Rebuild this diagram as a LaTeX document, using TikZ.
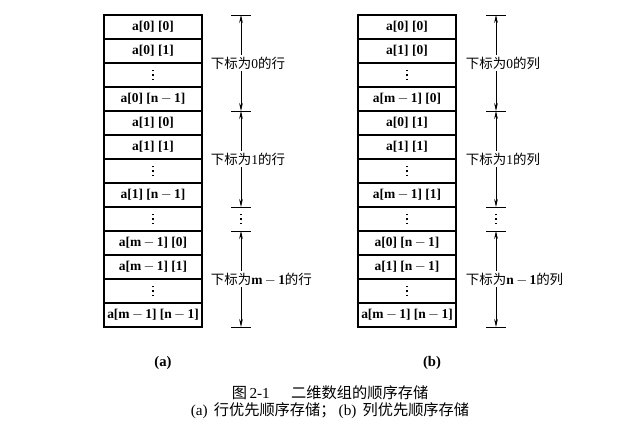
\documentclass[tikz,border=0pt]{standalone}
\usepackage{fontspec}
\setmainfont{Liberation Serif}
\newfontfamily\cjk{Noto Sans CJK SC}
\usetikzlibrary{arrows.meta}

% 竖排三点（用小方块画）
\newcommand{\vdts}[1][1.3pt]{\vbox{\baselineskip=0pt\lineskip=2.5pt
    \hbox{\rule{#1}{#1}}\hbox{\rule{#1}{#1}}\hbox{\rule{#1}{#1}}}}

\begin{document}
\begin{tikzpicture}[x=0.03cm, y=-0.03cm,
    frame/.style={line width=0.9pt},
    cell/.style={inner sep=1pt, font=\fontsize{11.5}{13}\selectfont\bfseries},
    tick/.style={line width=0.6pt},
    dim/.style={-{Stealth[length=2.4mm, width=1.1mm]}, line width=0.6pt},
    lab/.style={anchor=west, inner sep=1.5pt, font=\cjk\fontsize{11.5}{13}\selectfont},
    captext/.style={inner sep=0pt, font=\fontsize{13}{15}\selectfont}]
    % --- 定义坐标和参数 ---
    \def\lx{153}      % (a) 表的中心 x
    \def\rx{407}      % (b) 表的中心 x
    \def\la{241}      % (a) 尺寸线 x
    \def\ra{496}      % (b) 尺寸线 x
    \useasboundingbox (0,0) rectangle (636,429);

    % --- 表格外框和横线 ---
    \draw[frame] (104,15) rectangle (202,327);
    \draw[frame] (358,15) rectangle (456,327);
    \foreach \k in {1,...,12} {
        \draw[frame] (104,15+24*\k) -- (202,15+24*\k);
        \draw[frame] (358,15+24*\k) -- (456,15+24*\k);
    }

    % --- (a) 行优先存储表 ---
    \foreach \txt [count=\i] in {{a[0] [0]}, {a[0] [1]}, {\vdts}, {a[0] [n$\,-\,$1]},
        {a[1] [0]}, {a[1] [1]}, {\vdts}, {a[1] [n$\,-\,$1]}, {\vdts},
        {a[m$\,-\,$1] [0]}, {a[m$\,-\,$1] [1]}, {\vdts}, {a[m$\,-\,$1] [n$\,-\,$1]}}
        \node[cell] (L\i) at (\lx, 3+24*\i) {\txt};

    % --- (b) 列优先存储表 ---
    \foreach \txt [count=\i] in {{a[0] [0]}, {a[1] [0]}, {\vdts}, {a[m$\,-\,$1] [0]},
        {a[0] [1]}, {a[1] [1]}, {\vdts}, {a[m$\,-\,$1] [1]}, {\vdts},
        {a[0] [n$\,-\,$1]}, {a[1] [n$\,-\,$1]}, {\vdts}, {a[m$\,-\,$1] [n$\,-\,$1]}}
        \node[cell] (R\i) at (\rx, 3+24*\i) {\txt};

    % --- 尺寸线端点和短横线 ---
    \foreach \y [count=\k] in {15, 111, 207, 231, 327} {
        \coordinate (LT\k) at (\la, \y);
        \coordinate (RT\k) at (\ra, \y);
        \draw[tick] (LT\k) ++(-10,0) -- ++(20,0);
        \draw[tick] (RT\k) ++(-10,0) -- ++(20,0);
    }

    % --- (a) 标签和箭头 ---
    \node[lab] (LA1) at (209, 63) {下标为{\rmfamily 0}的行};
    \node[lab] (LA2) at (209, 159) {下标为{\rmfamily 1}的行};
    \node[lab] (LA3) at (209, 279) {下标为{\rmfamily\bfseries m$\,-\,$1}的行};
    \node[inner sep=1pt] (LD) at (\la, 219) {\vdts[1pt]};
    \draw[dim] (LA1.north -| LT1) -- (LT1);
    \draw[dim] (LA1.south -| LT1) -- (LT2);
    \draw[dim] (LA2.north -| LT2) -- (LT2);
    \draw[dim] (LA2.south -| LT2) -- (LT3);
    \draw[dim] (LA3.north -| LT4) -- (LT4);
    \draw[dim] (LA3.south -| LT4) -- (LT5);

    % --- (b) 标签和箭头 ---
    \node[lab] (RA1) at (464, 63) {下标为{\rmfamily 0}的列};
    \node[lab] (RA2) at (464, 159) {下标为{\rmfamily 1}的列};
    \node[lab] (RA3) at (464, 279) {下标为{\rmfamily\bfseries n$\,-\,$1}的列};
    \node[inner sep=1pt] (RD) at (\ra, 219) {\vdts[1pt]};
    \draw[dim] (RA1.north -| RT1) -- (RT1);
    \draw[dim] (RA1.south -| RT1) -- (RT2);
    \draw[dim] (RA2.north -| RT2) -- (RT2);
    \draw[dim] (RA2.south -| RT2) -- (RT3);
    \draw[dim] (RA3.north -| RT4) -- (RT4);
    \draw[dim] (RA3.south -| RT4) -- (RT5);

    % --- 图题 ---
    \node[captext, font=\fontsize{12.5}{14}\selectfont\bfseries] (CA) at (163, 363) {(a)};
    \node[captext, font=\fontsize{12.5}{14}\selectfont\bfseries] (CB) at (432, 363) {(b)};
    \node[captext] (T1) at (330, 393) {{\cjk 图}\,2-1\hspace{1.4em}{\cjk 二维数组的顺序存储}};
    \node[captext] (T2) at (330, 411) {(a)\hspace{0.4em}{\cjk 行优先顺序存储；}\hspace{0.2em}(b)\hspace{0.4em}{\cjk 列优先顺序存储}};

\end{tikzpicture}
\end{document}
